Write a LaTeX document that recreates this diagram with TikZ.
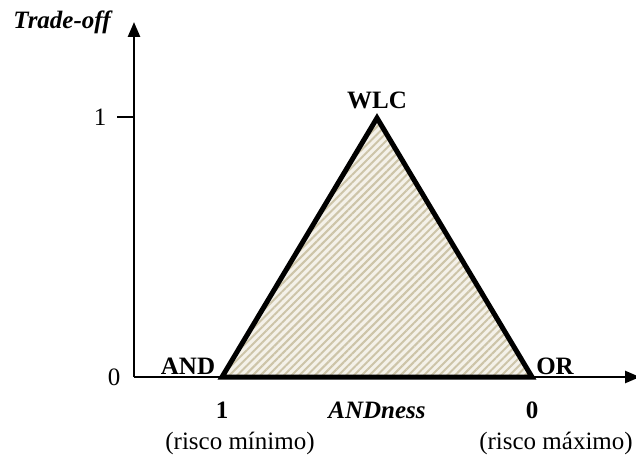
\documentclass[tikz,border=0pt]{standalone}
\usepackage{fontspec}
\setmainfont{Liberation Serif}
\usetikzlibrary{positioning, calc, arrows.meta, patterns.meta}
\definecolor{HatchColor}{RGB}{205,196,168}
\definecolor{AreaColor}{RGB}{244,241,233}
\tikzset{
    axis/.style={-{Triangle[length=15pt, width=12pt]}, line width=2.5pt, draw=black},
    tick/.style={line width=2.5pt, draw=black},
    area/.style={line width=5pt, line join=miter, draw=black,
        preaction={fill=AreaColor},
        preaction={pattern={Lines[angle=45, distance=5.5pt, line width=2pt]}, pattern color=HatchColor}},
    lbl/.style={font=\fontsize{25}{29}\selectfont, inner sep=0pt},
    blbl/.style={lbl, font=\fontsize{25}{29}\selectfont\bfseries},
    bilbl/.style={lbl, font=\fontsize{25}{29}\selectfont\bfseries\itshape}
}

\begin{document}
\begin{tikzpicture}[x=1pt, y=-1pt]
\useasboundingbox (0,0) rectangle (636,457);

% Axes
\coordinate (origin) at (134, 377);
\coordinate (ytip) at (134, 22);
\coordinate (xtip) at (640, 377);
\coordinate (tick1) at (117, 117);
\coordinate (tick1end) at (134, 117);

% Triangle
\coordinate (and) at (222, 377);
\coordinate (wlc) at (377, 118);
\coordinate (or) at (532, 377);

\draw[axis] (origin) -- (ytip);
\draw[axis] (origin) -- (xtip);
\draw[tick] (tick1) -- (tick1end);
\draw[area] (and) -- (wlc) -- (or) -- cycle;

% Labels
\node[bilbl] (n_trade) at (62, 22) {Trade-off};
\node[lbl] (n_one) at (100, 117) {1};
\node[lbl] (n_zero) at (114, 377) {0};
\node[blbl, above=9pt of wlc] (n_wlc) {WLC};
\node[blbl] (n_and) at (188, 366) {AND};
\node[blbl] (n_or) at (555, 366) {OR};
\node[blbl] (n_min) at (222, 410) {1};
\node[bilbl] (n_andness) at (377, 410) {ANDness};
\node[blbl] (n_max) at (532, 410) {0};
\node[lbl] (n_rmin) at (240, 443) {(risco mínimo)};
\node[lbl] (n_rmax) at (556, 443) {(risco máximo)};

\end{tikzpicture}
\end{document}
